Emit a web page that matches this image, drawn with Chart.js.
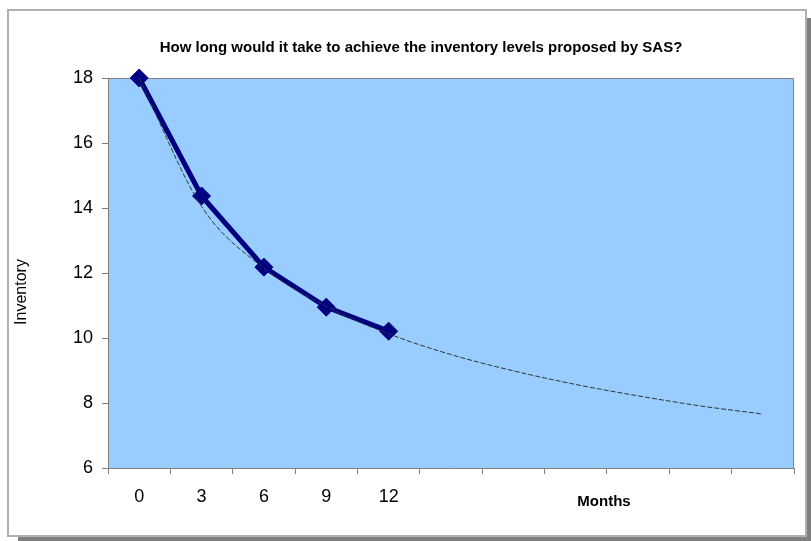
<!DOCTYPE html>
<html>
<head>
<meta charset="utf-8">
<script src="https://cdn.jsdelivr.net/npm/chart.js@4"></script>
<style>
  html, body { margin: 0; padding: 0; background: #ffffff; }
  #wrap { position: relative; width: 811px; height: 541px; }
</style>
</head>
<body>
<div id="wrap"><canvas id="c" width="811" height="541"></canvas></div>
<script>
// ---- data ----
const months = ['0', '3', '6', '9', '12', '15', '18', '21', '24', '27', '30'];
const xTickLabels = ['0', '3', '6', '9', '12', '', '', '', '', '', ''];
const inventory = [18, 14.37, 12.18, 10.95, 10.21, null, null, null, null, null, null];
const trendline = [18, 14.05, 12.15, 10.97, 10.13, 9.49, 8.99, 8.57, 8.22, 7.91, 7.66];
const yTicks = [6, 8, 10, 12, 14, 16, 18];
const chartTitle = 'How long would it take to achieve the inventory levels proposed by SAS?';
const xTitle = 'Months';
const yTitle = 'Inventory';

const FONT = 'Arial, "Liberation Sans", sans-serif';

const decor = {
  id: 'decor',
  beforeDraw(chart) {
    const ctx = chart.ctx;
    const a = chart.chartArea;
    ctx.save();
    ctx.fillStyle = '#ffffff';
    ctx.fillRect(0, 0, chart.width, chart.height);
    // shadow
    ctx.fillStyle = '#7f7f7f';
    ctx.fillRect(18, 537, chart.width - 18, 4);
    ctx.fillRect(807, 18, 4, chart.height - 18);
    // frame
    ctx.strokeStyle = '#b0b0b0';
    ctx.lineWidth = 2;
    ctx.strokeRect(8, 10, 798, 526);
    // plot background
    ctx.fillStyle = '#99ccff';
    ctx.fillRect(a.left, a.top, a.right - a.left, a.bottom - a.top);
    ctx.restore();
  },
  beforeDatasetsDraw(chart) {
    const ctx = chart.ctx;
    const a = chart.chartArea;
    ctx.save();
    ctx.strokeStyle = '#808080';
    ctx.lineWidth = 1;
    ctx.beginPath();
    ctx.moveTo(a.left, a.top + 0.5);
    ctx.lineTo(a.right - 0.5, a.top + 0.5);
    ctx.lineTo(a.right - 0.5, a.bottom);
    ctx.stroke();
    ctx.restore();
  },
  afterDraw(chart) {
    const ctx = chart.ctx;
    const a = chart.chartArea;
    ctx.save();
    ctx.fillStyle = '#000000';
    ctx.textAlign = 'center';
    ctx.textBaseline = 'middle';
    ctx.font = 'bold 15px ' + FONT;
    ctx.fillText(xTitle, a.left + (a.right - a.left) * 0.723, 502);
    ctx.translate(22, 292);
    ctx.rotate(-Math.PI / 2);
    ctx.font = '16px ' + FONT;
    ctx.fillText(yTitle, 0, 0);
    ctx.restore();
  }
};

new Chart(document.getElementById('c'), {
  type: 'line',
  data: {
    labels: months,
    datasets: [
      {
        label: 'Trend',
        data: trendline,
        borderColor: '#333333',
        borderWidth: 1,
        borderDash: [5, 2],
        pointRadius: 0,
        fill: false,
        cubicInterpolationMode: 'monotone',
        order: 0
      },
      {
        label: 'Inventory',
        data: inventory,
        borderColor: '#000080',
        backgroundColor: '#000080',
        borderWidth: 5,
        pointStyle: 'rectRot',
        pointRadius: 9,
        pointBorderWidth: 1,
        pointBorderColor: '#000080',
        pointBackgroundColor: '#000080',
        fill: false,
        tension: 0,
        clip: false,
        order: 1
      }
    ]
  },
  options: {
    responsive: false,
    animation: false,
    devicePixelRatio: 1,
    layout: { padding: { left: 48, right: 17, top: 0, bottom: 0 } },
    plugins: {
      legend: { display: false },
      tooltip: { enabled: false },
      title: {
        display: true,
        text: chartTitle,
        color: '#000000',
        font: { family: FONT, size: 15, weight: 'bold', lineHeight: 1.2 },
        padding: { top: 39, bottom: 21 }
      }
    },
    scales: {
      x: {
        type: 'category',
        offset: true,
        grid: { display: true, drawOnChartArea: false, offset: true, tickLength: 6, color: '#808080' },
        border: { color: '#808080', width: 1 },
        ticks: {
          color: '#000000',
          font: { family: FONT, size: 18 },
          padding: 12,
          maxRotation: 0,
          autoSkip: false,
          callback: (v, i) => xTickLabels[i]
        },
        afterFit: (s) => { s.height = 73; }
      },
      y: {
        min: 6,
        max: 18,
        grid: { display: true, drawOnChartArea: false, tickLength: 6, color: '#808080' },
        border: { color: '#808080', width: 1 },
        afterBuildTicks: (s) => { s.ticks = yTicks.map(v => ({ value: v })); },
        ticks: {
          color: '#000000',
          font: { family: FONT, size: 18 },
          padding: 9
        },
        afterFit: (s) => { s.width = 60; }
      }
    }
  },
  plugins: [decor]
});
</script>
</body>
</html>
